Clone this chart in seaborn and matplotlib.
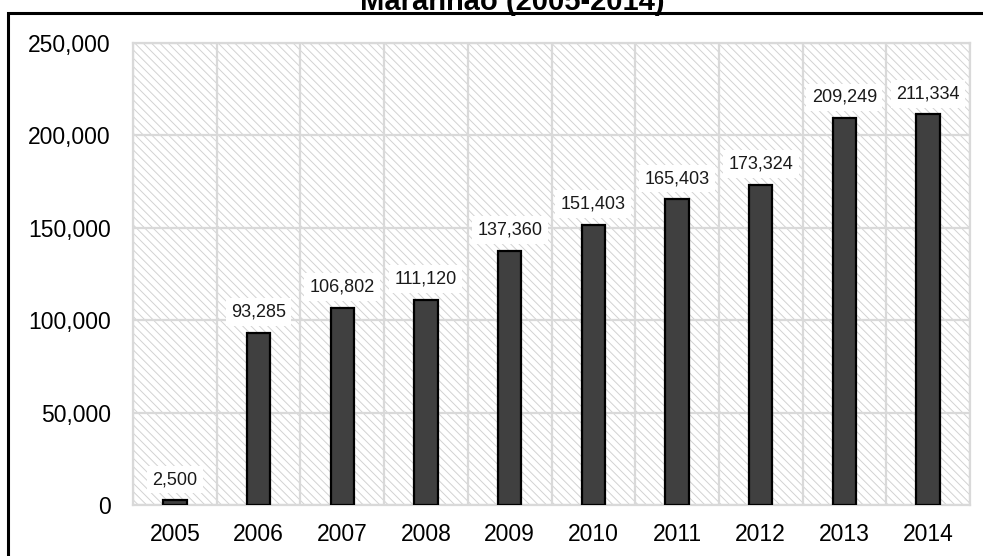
import matplotlib
matplotlib.use("Agg")
import matplotlib.pyplot as plt
from matplotlib.patches import Rectangle
from matplotlib.ticker import FuncFormatter, MultipleLocator
import numpy as np
import pandas as pd
import seaborn as sns

years = ["2005", "2006", "2007", "2008", "2009", "2010", "2011", "2012", "2013", "2014"]
values = [2500, 93285, 106802, 111120, 137360, 151403, 165403, 173324, 209249, 211334]
title = "Maranhão (2005-2014)"

sns.set_theme(style="white")
plt.rcParams["font.family"] = ["Liberation Sans", "DejaVu Sans"]
plt.rcParams["hatch.linewidth"] = 0.7

df = pd.DataFrame({"year": years, "value": values})

fig = plt.figure(figsize=(9.83, 5.56), dpi=100)
W, H = 983, 556
ax = fig.add_axes([133 / W, 1 - 505 / H, (970 - 133) / W, (505 - 43) / H])

# hatched plot area background
bg = Rectangle((0, 0), 1, 1, transform=ax.transAxes, facecolor="white",
               edgecolor="#d2d2d2", hatch="\\\\\\\\", linewidth=0, zorder=0)
ax.add_patch(bg)

sns.barplot(data=df, x="year", y="value", ax=ax, color="#404040",
            saturation=1, width=0.28, edgecolor="black", linewidth=1.6,
            errorbar=None, zorder=3)

ax.set_ylim(0, 250000)
ax.set_xlim(-0.5, len(years) - 0.5)
ax.yaxis.set_major_locator(MultipleLocator(50000))
ax.yaxis.set_major_formatter(FuncFormatter(lambda v, _: f"{int(v):,}"))
ax.set_xticks(np.arange(len(years) + 1) - 0.5, minor=True)

ax.grid(axis="y", which="major", color="#d9d9d9", linewidth=1.6, zorder=1)
ax.grid(axis="x", which="minor", color="#d9d9d9", linewidth=1.6, zorder=1)
ax.grid(axis="x", which="major", visible=False)
ax.set_axisbelow(True)

for s in ax.spines.values():
    s.set_color("#d9d9d9")
    s.set_linewidth(1.6)

ax.tick_params(axis="both", which="both", length=0)
ax.tick_params(axis="y", labelsize=16.5, pad=16, colors="black")
ax.tick_params(axis="x", labelsize=16.5, pad=13, colors="black")
ax.set_xlabel("")
ax.set_ylabel("")

for i, v in enumerate(values):
    ax.annotate(f"{v:,}", xy=(i, v), xytext=(0, 15), textcoords="offset points",
                ha="center", va="center", fontsize=13, color="#1a1a1a", zorder=5,
                bbox=dict(boxstyle="square,pad=0.3", facecolor="white",
                          edgecolor="none"))

# outer frame and the title sitting on its top edge
frame = Rectangle((8 / W, -0.05), 1.1, 1 - 13 / H + 0.05, transform=fig.transFigure,
                  fill=False, edgecolor="black", linewidth=2.2)
fig.patches.append(frame)
fig.text(512 / W, 1 - 10 / H, title, ha="center", va="baseline",
         fontsize=21, fontweight="bold", color="black")

fig.savefig("out.png", dpi=100)
